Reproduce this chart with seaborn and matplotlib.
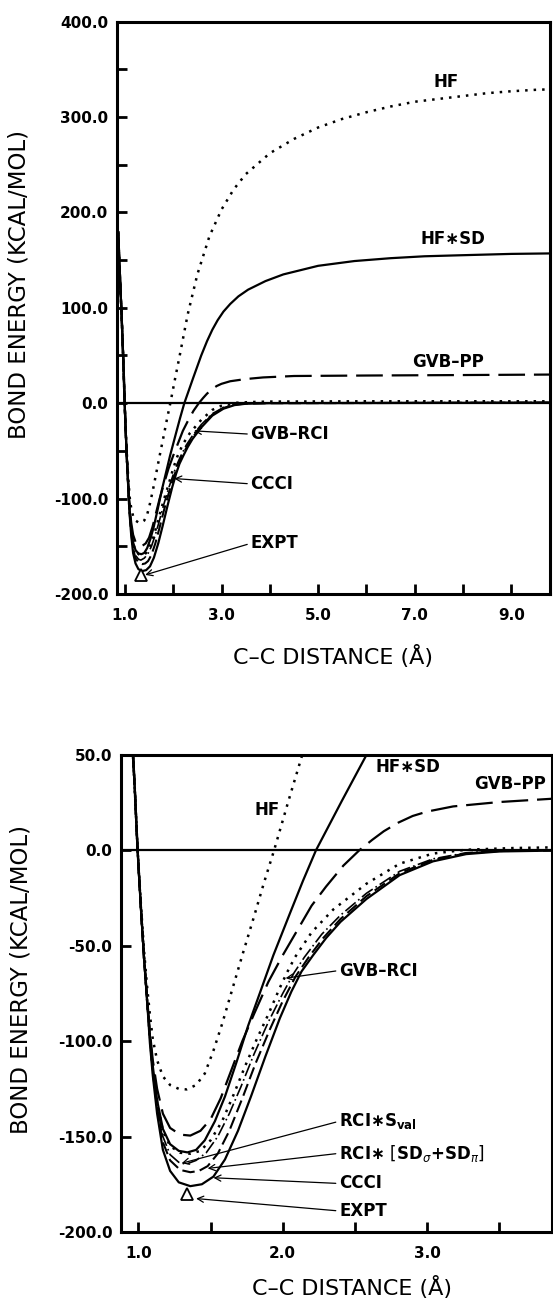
import numpy as np
import matplotlib
matplotlib.use("Agg")
import matplotlib.pyplot as plt
import seaborn as sns
from matplotlib.ticker import FormatStrFormatter

# --- curve data (x in Angstrom, y in kcal/mol) ---
hf_x = [0.86, 0.90, 0.93, 0.955, 0.975, 0.99, 1.00, 1.02, 1.04, 1.06, 1.08, 1.10, 1.13, 1.17, 1.22, 1.28,
        1.335, 1.40, 1.46, 1.52, 1.58, 1.65, 1.72, 1.80, 1.87, 1.94, 2.04, 2.135, 2.30, 2.50, 2.75, 3.00,
        3.25, 3.50, 4.00, 4.50, 5.00, 5.50, 6.00, 6.50, 7.00, 7.50, 8.00, 8.50, 9.00, 9.50, 9.80]
hf_y = [178, 128, 93, 60, 32, 8, -6, -31, -53, -71, -86, -99, -110, -118.5, -123, -125,
        -125.3, -123, -117, -105, -91, -73, -55, -35, -17, 0, 26, 50, 93, 135, 175, 203,
        224, 240, 262, 277, 289, 298, 305, 311, 316, 319, 322, 325, 327, 328.5, 329]

hfsd_x = [0.86, 0.90, 0.93, 0.955, 0.975, 0.99, 1.00, 1.02, 1.04, 1.06, 1.08, 1.10, 1.13, 1.17, 1.22, 1.28,
          1.34, 1.40, 1.46, 1.53, 1.60, 1.68, 1.76, 1.85, 1.935, 2.05, 2.14, 2.23, 2.41, 2.58, 2.70, 2.81,
          2.92, 3.04, 3.18, 3.35, 3.55, 3.91, 4.28, 5.00, 5.75, 6.50, 7.20, 7.90, 9.00, 9.80]
hfsd_y = [180, 130, 95, 62, 33, 8, -7, -33, -57, -78, -97, -113, -131, -146, -154, -157.5,
          -158.3, -157, -152, -142, -129, -111, -92, -73, -55, -33, -16, 0, 26, 50, 65, 77,
          87, 96, 104, 112, 119, 128, 135, 144, 149, 152, 154, 155, 156.5, 157]

gvbpp_x = [0.86, 0.90, 0.93, 0.955, 0.975, 0.99, 1.00, 1.02, 1.04, 1.06, 1.08, 1.10, 1.13, 1.17, 1.22, 1.29,
           1.36, 1.43, 1.50, 1.57, 1.64, 1.72, 1.80, 1.90, 2.00, 2.10, 2.20, 2.30, 2.42, 2.53, 2.62, 2.70,
           2.80, 2.90, 3.00, 3.18, 3.50, 3.86, 4.50, 6.00, 8.00, 9.80]
gvbpp_y = [180, 130, 95, 62, 33, 8, -7, -33, -57, -77, -95, -110, -125, -138, -145.5, -149,
           -149.5, -147, -141, -130, -116, -100, -86, -69, -55, -42, -29, -19, -8, 0, 5.5, 10,
           14.5, 18, 20.3, 23, 25.3, 27, 28.5, 29, 29.5, 30]

gvbrci_x = [0.86, 0.90, 0.93, 0.955, 0.975, 0.99, 1.00, 1.02, 1.04, 1.06, 1.08, 1.10, 1.13, 1.17, 1.22, 1.29,
            1.36, 1.43, 1.50, 1.58, 1.66, 1.74, 1.82, 1.90, 1.98, 2.03, 2.085, 2.20, 2.35, 2.58, 2.81, 3.04,
            3.27, 3.60, 4.00, 6.00, 9.80]
gvbrci_y = [180, 130, 95, 62, 33, 8, -7, -33, -57, -78, -98, -115, -132, -147, -155, -158.5,
            -159, -157.5, -152, -142, -128, -113, -99, -86, -72, -64, -56, -43, -31, -17.5, -7, -1.7,
            0.3, 1.2, 1.7, 2.0, 2.0]

rcis_x = [0.86, 0.90, 0.93, 0.955, 0.975, 0.99, 1.00, 1.02, 1.04, 1.06, 1.08, 1.10, 1.13, 1.17, 1.22, 1.28,
          1.33, 1.40, 1.47, 1.55, 1.63, 1.71, 1.80, 1.90, 2.00, 2.08, 2.15, 2.27, 2.40, 2.58, 2.81, 3.04,
          3.27, 3.50, 4.00, 9.80]
rcis_y = [180, 130, 95, 62, 33, 8, -7, -33, -57, -78, -98, -116, -134, -150, -159.5, -163.5,
          -164.5, -162.5, -158.5, -150, -138, -124, -107, -90, -75, -64, -56, -44, -34, -22.5, -11, -4.5,
          -1.3, -0.2, 0.3, 0.8]

rcisd_x = [0.86, 0.90, 0.93, 0.955, 0.975, 0.99, 1.00, 1.02, 1.04, 1.06, 1.08, 1.10, 1.13, 1.17, 1.22, 1.29,
           1.36, 1.42, 1.48, 1.55, 1.63, 1.72, 1.81, 1.91, 2.00, 2.09, 2.18, 2.28, 2.40, 2.58, 2.81, 3.04,
           3.27, 3.50, 4.00, 9.80]
rcisd_y = [180, 130, 95, 62, 33, 8, -7, -33, -57, -78, -98, -116, -135, -153, -162.5, -167.5,
           -168.7, -168, -165.5, -159, -147, -130, -112, -94, -79, -66, -56, -46, -36, -24, -12, -5,
           -1.6, -0.4, 0.0, 0.5]

ccci_x = [0.86, 0.90, 0.93, 0.955, 0.975, 0.99, 1.00, 1.02, 1.04, 1.06, 1.08, 1.10, 1.13, 1.17, 1.22, 1.28,
          1.36, 1.44, 1.52, 1.60, 1.69, 1.78, 1.88, 1.98, 2.06, 2.13, 2.21, 2.30, 2.40, 2.58, 2.81, 3.04,
          3.27, 3.50, 4.00, 9.80]
ccci_y = [180, 130, 95, 62, 33, 8, -7, -33, -57, -78, -101, -118, -138, -157, -168, -174,
          -176, -175, -171, -162, -147, -129, -108, -88, -74, -63.5, -55, -46, -37.5, -25.5, -13, -5.8,
          -2, -0.6, 0.0, 0.5]

expt_x = [1.34]
expt_y = [-180]

curves = [
    (hf_x, hf_y, (0, (1, 2.4)), 1.8),
    (hfsd_x, hfsd_y, "-", 1.6),
    (gvbpp_x, gvbpp_y, (0, (12, 4)), 1.6),
    (gvbrci_x, gvbrci_y, (0, (1, 2.4)), 1.8),
    (rcis_x, rcis_y, (0, (8, 2, 1, 2)), 1.2),
    (rcisd_x, rcisd_y, (0, (6, 2.5)), 1.5),
    (ccci_x, ccci_y, "-", 1.6),
]

sns.set_style("ticks")
plt.rcParams["font.family"] = ["DejaVu Sans"]
plt.rcParams["mathtext.fontset"] = "dejavusans"
for key in ["text.color", "axes.labelcolor", "xtick.color", "ytick.color", "axes.edgecolor"]:
    plt.rcParams[key] = "black"

fig = plt.figure(figsize=(5.53, 13.02), dpi=100)
ax1 = fig.add_axes([0.211, 0.5438, 0.7836, 0.4396])
ax2 = fig.add_axes([0.2183, 0.0538, 0.780, 0.3664])

for ax in (ax1, ax2):
    ax.axhline(0, color="k", lw=1.6, zorder=1)
    for cx, cy, ls, lw in curves:
        sns.lineplot(x=cx, y=cy, ax=ax, color="k", linestyle=ls, lw=lw,
                     sort=False, estimator=None, legend=False)
    ax.plot(expt_x, expt_y, marker="^", ms=8, mfc="white", mec="k", mew=1.3, ls="none", zorder=5)
    for sp in ax.spines.values():
        sp.set_linewidth(2.2)
        sp.set_color("black")
        sp.set_visible(True)
    ax.tick_params(which="both", direction="in", length=7, width=2, labelsize=11, color="black",
                   labelcolor="black")
    ax.tick_params(axis="x", which="both", pad=10)
    ax.tick_params(axis="y", which="both", pad=6)
    ax.xaxis.set_major_formatter(FormatStrFormatter("%.1f"))
    ax.yaxis.set_major_formatter(FormatStrFormatter("%.1f"))

# top panel
ax1.set_xlim(0.83, 9.8)
ax1.set_ylim(-200, 400)
ax1.set_xticks([1, 3, 5, 7, 9])
ax1.set_xticks([2, 4, 6, 8], minor=True)
ax1.set_yticks(np.arange(-200, 401, 100))
ax1.set_yticks(np.arange(-150, 400, 100), minor=True)

# bottom panel
ax2.set_xlim(0.878, 3.865)
ax2.set_ylim(-200, 50)
ax2.set_xticks([1, 2, 3])
ax2.set_xticks([1.5, 2.5, 3.5], minor=True)
ax2.set_yticks(np.arange(-200, 51, 50))

for ax in (ax1, ax2):
    for lbl in ax.get_xticklabels() + ax.get_yticklabels():
        lbl.set_fontweight("bold")
    ax.set_xlabel("C\u2013C DISTANCE (\u00c5)", fontsize=16, color="black")
    ax.set_ylabel("BOND ENERGY (KCAL/MOL)", fontsize=16.5, color="black")

ax1.xaxis.set_label_coords(0.5, -0.09)
ax1.yaxis.set_label_coords(-0.20, 0.54)
ax2.xaxis.set_label_coords(0.536, -0.092)
ax2.yaxis.set_label_coords(-0.205, 0.53)

lab = dict(fontsize=12, fontweight="bold", color="black")
arr = dict(arrowstyle="->", color="k", lw=0.9, shrinkA=0, shrinkB=0, relpos=(0, 0.5), mutation_scale=11)

# top panel labels
ax1.text(7.65, 337, "HF", ha="center", va="center", **lab)
ax1.text(7.8, 172, "HF\u2217SD", ha="center", va="center", **lab)
ax1.text(7.68, 43, "GVB\u2013PP", ha="center", va="center", **lab)
ax1.annotate("GVB\u2013RCI", xy=(2.43, -29), xytext=(3.6, -32.5), ha="left", va="center", arrowprops=arr, **lab)
ax1.annotate("CCCI", xy=(2.02, -79), xytext=(3.6, -84.6), ha="left", va="center", arrowprops=arr, **lab)
ax1.annotate("EXPT", xy=(1.42, -180), xytext=(3.6, -147), ha="left", va="center", arrowprops=arr, **lab)

# bottom panel labels
ax2.text(1.89, 21, "HF", ha="center", va="center", **lab)
ax2.text(2.865, 43.6, "HF\u2217SD", ha="center", va="center", **lab)
ax2.text(3.575, 35, "GVB\u2013PP", ha="center", va="center", **lab)
ax2.annotate("GVB\u2013RCI", xy=(2.02, -67), xytext=(2.39, -63), ha="left", va="center", arrowprops=arr, **lab)
ax2.annotate("RCI\u2217S$_{\\mathbf{val}}$", xy=(1.30, -164), xytext=(2.39, -142), ha="left", va="center",
             arrowprops=arr, **lab)
ax2.annotate("RCI\u2217 $\\left[\\mathbf{SD}_{\\sigma}\\mathbf{+SD}_{\\pi}\\right]$", xy=(1.48, -166.7),
             xytext=(2.39, -158.8), ha="left", va="center", arrowprops=arr, **lab)
ax2.annotate("CCCI", xy=(1.52, -171.6), xytext=(2.39, -174.6), ha="left", va="center", arrowprops=arr, **lab)
ax2.annotate("EXPT", xy=(1.40, -182.5), xytext=(2.39, -189), ha="left", va="center", arrowprops=arr, **lab)

fig.savefig("out.png", dpi=100)
